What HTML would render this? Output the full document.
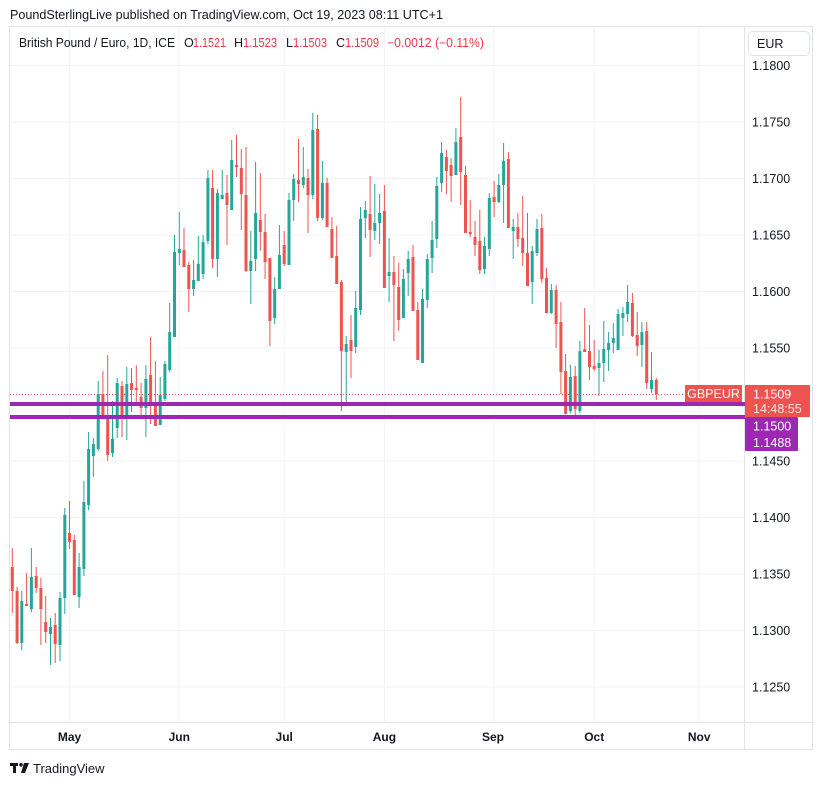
<!DOCTYPE html>
<html><head><meta charset="utf-8"><style>
html,body{margin:0;padding:0;background:#fff;}
svg{display:block;font-family:"Liberation Sans",Arial,sans-serif;}
</style></head><body>
<svg width="824" height="785" viewBox="0 0 824 785" xmlns="http://www.w3.org/2000/svg">
<rect x="0" y="0" width="824" height="785" fill="#fff"/>
<text x="10" y="19" font-size="12.5" fill="#131722" textLength="433" lengthAdjust="spacingAndGlyphs">PoundSterlingLive published on TradingView.com, Oct 19, 2023 08:11 UTC+1</text>
<!-- grid -->
<g stroke="#f0f3fa" stroke-width="1">
<path d="M10 65.5H744M10 122H744M10 178.5H744M10 235H744M10 291.5H744M10 348H744M10 404.5H744M10 461H744M10 517.5H744M10 574H744M10 630.5H744M10 687H744"/>
<path d="M69.5 27V722M179.3 27V722M284.2 27V722M384.4 27V722M494.1 27V722M594.2 27V722M699.2 27V722"/>
</g>
<!-- frame -->
<rect x="9.5" y="26.5" width="803" height="723" fill="none" stroke="#e0e3eb"/>
<path d="M744.5 27V749M10 722.5H813" stroke="#e0e3eb"/>
<!-- legend -->
<g font-size="12.5">
<text x="19" y="47" fill="#131722" textLength="156" lengthAdjust="spacingAndGlyphs">British Pound / Euro, 1D, ICE</text>
<text x="184" y="47" fill="#131722">O</text>
<text x="193" y="47" fill="#f23645" textLength="33" lengthAdjust="spacingAndGlyphs">1.1521</text>
<text x="234" y="47" fill="#131722">H</text>
<text x="243" y="47" fill="#f23645" textLength="34" lengthAdjust="spacingAndGlyphs">1.1523</text>
<text x="286" y="47" fill="#131722">L</text>
<text x="293" y="47" fill="#f23645" textLength="34" lengthAdjust="spacingAndGlyphs">1.1503</text>
<text x="336" y="47" fill="#131722">C</text>
<text x="345" y="47" fill="#f23645" textLength="34" lengthAdjust="spacingAndGlyphs">1.1509</text>
<text x="387" y="47" fill="#f23645" textLength="97" lengthAdjust="spacingAndGlyphs">−0.0012 (−0.11%)</text>
</g>
<!-- candles -->
<g fill="none">
<path stroke="#26a69a" stroke-width="1" d="M21.8 591V650M31.4 548V612M50.5 618V665M60 592V661M64.8 508V614M79.1 553V608M83.9 481V576M88.6 432V510M93.4 438V477M98.2 381V451M112.5 401V457M117.2 378V438M126.8 367V440M145.9 365V437M160.2 377V425M164.9 361V401M169.7 303V372M174.5 235V337M179.3 212V265M193.6 260V296M198.3 236V281M203.1 235V279M207.9 170V244M217.4 189V277M222.2 170V199M231.7 140V210M250.8 231V304M255.6 162V271M274.7 277V324M279.4 225V289M289 193V265M293.7 174V221M303.3 147V188M312.8 113V199M322.4 161V220M346.2 336V405M355.7 291V353M360.5 207V315M365.3 201V238M374.8 184V240M379.6 194V244M389.1 238V302M403.4 269V318M408.2 251V296M422.5 289V363M427.3 254V308M432.1 221V273M436.8 177V248M441.6 142V192M455.9 128V175M484.5 237V274M489.3 193V256M498.8 174V203M503.6 143V223M513.2 219V259M532.2 246V304M537 219V256M551.3 284V314M570.4 365V413M579.9 341V413M599 350V396M603.8 321V382M608.6 332V371M613.3 323V353M618.1 309V350M622.9 307V336M627.6 285V322M641.9 322V367M651.5 352V393"/>
<path stroke="#26a69a" stroke-width="3" d="M21.8 601V643M31.4 577V609M50.5 627V634M60 598V645M64.8 515V598M79.1 567V597M83.9 502V569M88.6 449V505M93.4 444V456M98.2 394V449M112.5 439V453M117.2 383V428M126.8 384V417M145.9 379V408M160.2 395V425M164.9 364V399M169.7 332V370M174.5 252V337M179.3 249V253M193.6 280V289M198.3 264V281M203.1 242V274M207.9 178V241M217.4 193V259M222.2 195V199M231.7 160V210M250.8 261V271M255.6 213V259M274.7 289V318M279.4 255V289M289 200V265M293.7 179V200M303.3 177V185M312.8 130V195M322.4 183V218M346.2 344V352M355.7 308V347M360.5 219V310M365.3 210V218M374.8 223V231M379.6 213V223M389.1 272V276M403.4 279V318M408.2 259V273M422.5 299V363M427.3 259V300M432.1 240V258M436.8 186V239M441.6 153V183M455.9 142V175M484.5 246V269M489.3 198V249M498.8 185V202M503.6 161V185M513.2 227V231M532.2 251V282M537 229V253M551.3 290V313M570.4 377V411M579.9 351V411M599 363V368M603.8 349V363M608.6 343V350M613.3 338V343M618.1 314V350M622.9 313V318M627.6 302V314M641.9 332V345M651.5 380V389"/>
<path stroke="#ef5350" stroke-width="1" d="M12.3 548V613M17.1 587V644M26.6 573V606M36.2 567V593M40.9 578V645M45.7 596V643M55.2 613V663M69.5 501V549M74.3 535V595M102.9 371V418M107.7 355V461M122 381V437M131.5 368V412M136.3 365V403M141.1 383V416M150.6 337V424M155.4 361V426M184 228V267M188.8 262V312M212.6 170V268M227 175V245M236.5 135V177M241.3 149V230M246 147V272M260.3 173V251M265.1 214V279M269.9 258V346M284.2 231V266M298.5 139V202M308 169V233M317.6 115V221M327.1 178V227M331.9 217V258M336.7 226V284M341.4 280V411M351 315V378M370.1 176V257M384.4 185V288M393.9 256V341M398.7 263V331M413 245V311M417.8 302V360M446.4 150V194M451.1 158V202M460.7 97V205M465.5 166V233M470.2 200V237M475 221V256M479.8 210V274M494.1 181V217M508.4 152V228M517.9 213V247M522.7 196V266M527.5 213V286M541.8 214V283M546.5 268V313M556.1 285V348M560.9 302V394M565.6 354V414M575.2 366V418M584.7 308V352M589.5 325V380M594.2 340V371M632.4 293V337M637.2 312V356M646.7 322V389M656.3 378V400"/>
<path stroke="#ef5350" stroke-width="3" d="M12.3 567V591M17.1 591V643M26.6 604V606M36.2 576V588M40.9 588V609M45.7 622V632M55.2 625V644M69.5 533V542M74.3 540V595M102.9 394V416M107.7 415V455M122 386V417M131.5 383V390M136.3 388V390M141.1 397V408M150.6 375V404M155.4 404V426M184 250V267M188.8 265V289M212.6 188V259M227 193V205M236.5 165V167M241.3 168V194M246 195V271M260.3 220V232M265.1 232V262M269.9 258V321M284.2 245V264M298.5 180V184M308 178V195M317.6 129V218M327.1 183V227M331.9 229V258M336.7 256V284M341.4 282V351M351 340V351M370.1 214V230M384.4 211V288M393.9 272V285M398.7 287V320M413 257V311M417.8 310V360M446.4 157V171M451.1 165V176M460.7 137V172M465.5 175V233M470.2 232V234M475 237V245M479.8 241V270M494.1 197V202M508.4 159V228M517.9 227V239M522.7 238V253M527.5 253V286M541.8 228V279M546.5 278V313M556.1 290V324M560.9 322V372M565.6 371V414M575.2 376V409M584.7 349V352M589.5 351V367M594.2 366V369M632.4 303V336M637.2 335V346M646.7 331V383M656.3 380V394"/>
</g>
<!-- dotted last price line -->
<path d="M10 394.5H685" stroke="#ef5350" stroke-width="1" stroke-dasharray="1 2"/>
<!-- purple horizontal lines -->
<path d="M10 404H745M10 417H745" stroke="#9c27b0" stroke-width="4"/>
<!-- price axis labels -->
<g font-size="12.5" fill="#131722">
<text x="752" y="70">1.1800</text>
<text x="752" y="126.5">1.1750</text>
<text x="752" y="183">1.1700</text>
<text x="752" y="239.5">1.1650</text>
<text x="752" y="296">1.1600</text>
<text x="752" y="352.5">1.1550</text>
<text x="752" y="465.5">1.1450</text>
<text x="752" y="522">1.1400</text>
<text x="752" y="578.5">1.1350</text>
<text x="752" y="635">1.1300</text>
<text x="752" y="691.5">1.1250</text>
</g>
<!-- EUR box -->
<rect x="748.5" y="31.5" width="61" height="24" rx="4" fill="#fff" stroke="#e0e3eb"/>
<text x="757" y="48" font-size="12.5" fill="#131722">EUR</text>
<!-- labels -->
<rect x="685" y="385" width="57" height="17" fill="#ef5350"/>
<text x="713.5" y="398" font-size="12.5" fill="#fff" text-anchor="middle">GBPEUR</text>
<rect x="745" y="385" width="65" height="32" rx="1" fill="#ef5350"/>
<text x="753" y="398.5" font-size="12.5" fill="#fff">1.1509</text>
<text x="753" y="413" font-size="12.5" fill="#fff" fill-opacity="0.85">14:48:55</text>
<rect x="745" y="417" width="53" height="34" rx="1" fill="#9c27b0"/>
<text x="753" y="430.5" font-size="12.5" fill="#fff">1.1500</text>
<text x="753" y="447" font-size="12.5" fill="#fff">1.1488</text>
<!-- time axis -->
<g font-size="12" font-weight="bold" fill="#131722" text-anchor="middle">
<text x="69.5" y="741">May</text>
<text x="179.3" y="741">Jun</text>
<text x="284.2" y="741">Jul</text>
<text x="384.4" y="741">Aug</text>
<text x="493" y="741">Sep</text>
<text x="594.2" y="741">Oct</text>
<text x="699.2" y="741">Nov</text>
</g>
<!-- footer logo -->
<g fill="#131722">
<rect x="10" y="763" width="8" height="3"/>
<rect x="13" y="763" width="3" height="10"/>
<circle cx="21" cy="764.8" r="1.8"/>
<path d="M24 763H29L25 773H21Z"/>
</g>
<text x="33" y="773" font-size="13" fill="#131722">TradingView</text>
</svg>
</body></html>
